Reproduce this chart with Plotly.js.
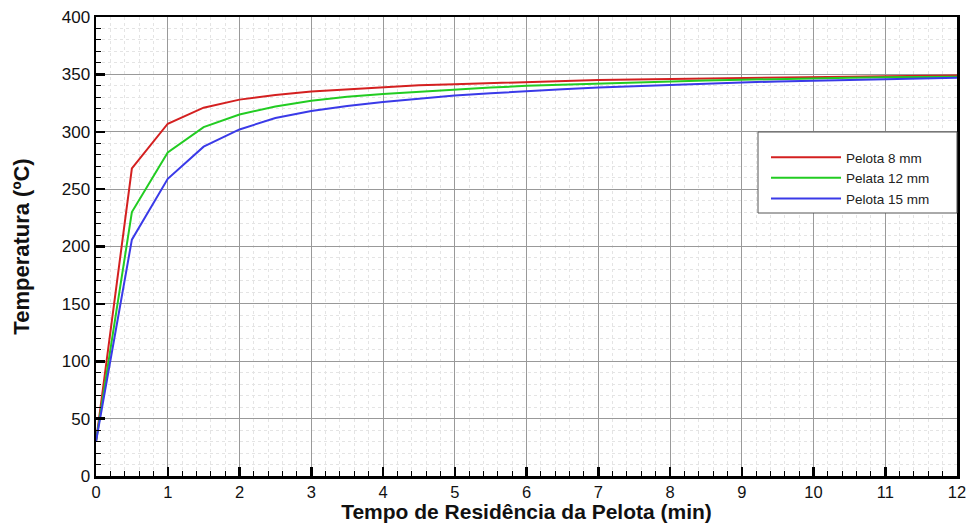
<!DOCTYPE html>
<html><head><meta charset="utf-8">
<script src="https://cdn.plot.ly/plotly-3.0.1.min.js"></script>
<style>html,body{margin:0;padding:0;background:#fff}#c{width:967px;height:523px}</style>
</head><body><div id="c"></div>
<script>
var tempo = [0,0.5,1,1.5,2,2.5,3,3.5,4,4.5,5,5.5,6,6.5,7,7.5,8,8.5,9,9.5,10,10.5,11,11.5,12];
var pelota8 = [30,268,307,321,328,332,335,337,339,340.5,341.5,342.5,343.5,344.2,345,345.5,346,346.5,347,347.3,347.7,348,348.3,348.6,349];
var pelota12 = [30,230,282,304,315,322,327,330.5,333,335,337,338.5,340,341,342,343,344,344.7,345.3,346,346.5,347,347.4,347.8,348];
var pelota15 = [30,206,259,287,302,312,318,322.5,326,329,331.5,333.5,335.5,337,338.5,339.7,341,342,343,343.8,344.5,345.2,345.8,346.3,347];
var seriesNames = ["Pelota 8 mm","Pelata 12 mm","Pelota 15 mm"];
var colors = ["#d42020","#22cc22","#3a3ae8"];
var xTitle = "Tempo de Residência da Pelota (min)";
var yTitle = "Temperatura (ºC)";

var ys = [pelota8, pelota12, pelota15];
var traces = ys.map(function(y,i){
  return {x: tempo, y: y, type:'scatter', mode:'lines', name: seriesNames[i],
    line:{color: colors[i], width:2}};
});
var F = "Liberation Sans, Arial, sans-serif";
// legend box geometry in paper px
var W = 967-96-10, H = 523-17-47;
function px2x(p){return (p-96)/W;}
function py2y(p){return (476-p)/H;}
var layout = {
  width:967, height:523,
  margin:{l:96, r:10, t:17, b:47},
  paper_bgcolor:'#fff', plot_bgcolor:'#fff',
  font:{family:F, color:'#111'},
  showlegend:true,
  shapes:[{type:'rect', xref:'paper', yref:'paper', x0:px2x(758), x1:px2x(957), y0:py2y(213), y1:py2y(132),
    fillcolor:'#fff', line:{color:'#555', width:1}, layer:'above'}],
  legend:{x:px2x(766), xanchor:'left', y:py2y(142), yanchor:'top', bgcolor:'rgba(0,0,0,0)',
    borderwidth:0, font:{size:13.5, family:F, color:'#222'},
    tracegroupgap:0, itemwidth:70},
  xaxis:{range:[0,12], dtick:1, tick0:0, showline:true, linecolor:'#000', linewidth:2.5, mirror:true,
    ticks:'inside', ticklen:9, tickwidth:2.5, tickcolor:'#000',
    tickfont:{size:16.5, family:F, color:'#111'},
    showgrid:true, gridcolor:'#999', gridwidth:1, zeroline:false,
    minor:{dtick:0.2, ticks:'inside', ticklen:5, tickwidth:1, tickcolor:'#000', showgrid:true, gridcolor:'#e4e4e4', griddash:'dot', gridwidth:1},
    title:{text:xTitle, font:{size:21, family:F, color:'#111', weight:'bold'}, standoff:4}},
  yaxis:{range:[0,400], dtick:50, tick0:0, showline:true, linecolor:'#000', linewidth:2.5, mirror:true,
    ticks:'inside', ticklen:9, tickwidth:2.5, tickcolor:'#000',
    tickfont:{size:17, family:F, color:'#111'},
    showgrid:true, gridcolor:'#999', gridwidth:1, zeroline:false,
    minor:{dtick:10, ticks:'inside', ticklen:5, tickwidth:1, tickcolor:'#000', showgrid:true, gridcolor:'#e4e4e4', griddash:'dot', gridwidth:1},
    title:{text:yTitle, font:{size:22, family:F, color:'#111', weight:'bold'}, standoff:26}}
};
Plotly.newPlot('c', traces, layout, {displayModeBar:false, staticPlot:true});
</script></body></html>
